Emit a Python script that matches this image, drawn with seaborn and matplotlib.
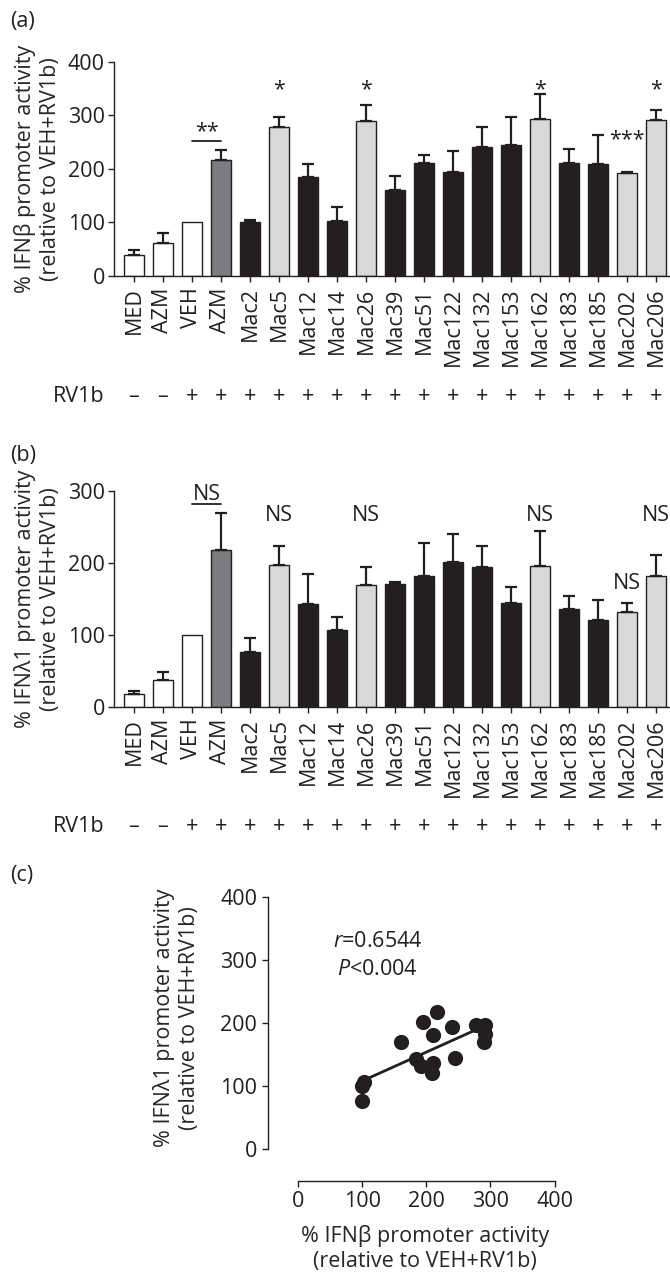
import numpy as np
import pandas as pd
import matplotlib
matplotlib.use('Agg')
import matplotlib.pyplot as plt
import matplotlib.transforms as mtransforms
import seaborn as sns

# data
labels = ['MED', 'AZM', 'VEH', 'AZM', 'Mac2', 'Mac5', 'Mac12', 'Mac14', 'Mac26',
          'Mac39', 'Mac51', 'Mac122', 'Mac132', 'Mac153', 'Mac162', 'Mac183',
          'Mac185', 'Mac202', 'Mac206']
groups = ['ctrl', 'ctrl', 'ctrl', 'azm', 'dark', 'light', 'dark', 'dark', 'light',
          'dark', 'dark', 'dark', 'dark', 'dark', 'light', 'dark', 'dark', 'light', 'light']
rv1b = ['–', '–'] + ['+'] * 17

ifnb_mean = [38, 62, 100, 216, 100, 278, 184, 103, 290, 160, 210, 194, 240, 245,
             292, 210, 209, 191, 291]
ifnb_sem = [10, 17, 0, 19, 4, 19, 25, 25, 29, 26, 15, 39, 37, 51, 48, 26, 54, 3, 19]

ifnl_mean = [17, 37, 100, 218, 76, 197, 143, 106, 169, 170, 181, 201, 194, 144,
             196, 136, 120, 132, 182]
ifnl_sem = [5, 11, 0, 51, 19, 26, 42, 19, 25, 3, 46, 39, 29, 22, 48, 18, 28, 12, 29]

# significance marks: (bar index, text)
stars_a = [(5, '*'), (8, '*'), (14, '*'), (18, '*')]
ns_b = [(5, 'NS'), (8, 'NS'), (14, 'NS'), (18, 'NS')]

INK = '#231f20'
group_colors = {'ctrl': 'white', 'azm': '#7b7c7f', 'dark': INK, 'light': '#d8d9db'}

sns.set_style('ticks')
plt.rcParams['font.family'] = ['Open Sans', 'DejaVu Sans']
plt.rcParams['mathtext.fontset'] = 'custom'
plt.rcParams['mathtext.it'] = 'Open Sans:italic'
plt.rcParams['mathtext.rm'] = 'Open Sans'
plt.rcParams['axes.edgecolor'] = INK
plt.rcParams['xtick.color'] = INK
plt.rcParams['ytick.color'] = INK
plt.rcParams['text.color'] = INK
FS = 15.5

keys = [f'{i}_{l}' for i, l in enumerate(labels)]
palette = {k: group_colors[g] for k, g in zip(keys, groups)}

fig = plt.figure(figsize=(6.7, 12.74), dpi=100)


def bar_panel(ax, mean, sem, ymax, ylabel, row_y):
    df = pd.DataFrame({'key': keys, 'val': mean})
    sns.barplot(data=df, x='key', y='val', hue='key', palette=palette, legend=False,
                width=0.7, saturation=1, edgecolor=INK, linewidth=1, errorbar=None, ax=ax)
    idx = [i for i, s in enumerate(sem) if s > 0]
    ax.errorbar(idx, [mean[i] for i in idx],
                yerr=[np.zeros(len(idx)), [sem[i] for i in idx]],
                fmt='none', ecolor=INK, elinewidth=1.6, capsize=4, capthick=1.6, zorder=1)
    ax.set_xlim(-0.69, 18.48)
    ax.set_ylim(0, ymax)
    ax.set_yticks(range(0, ymax + 1, 100))
    ax.set_xticks(range(len(labels)))
    ax.set_xticklabels(labels, rotation=90)
    ax.tick_params(labelsize=FS, length=4.5, width=1, pad=2)
    ax.tick_params(axis='x', pad=4)
    ax.set_xlabel('')
    ax.set_ylabel(ylabel, fontsize=FS, linespacing=1.25)
    ax.yaxis.set_label_coords(-0.095, 0.5)
    for sp in ax.spines.values():
        sp.set_linewidth(1)
    sns.despine(ax=ax)
    trans = mtransforms.blended_transform_factory(ax.transData, ax.transAxes)
    for i, s in enumerate(rv1b):
        ax.text(i, row_y, s, transform=trans, ha='center', va='center', fontsize=FS)


# (a)
ax_a = fig.add_axes([0.1701, 0.7836, 0.8299, 0.168])
bar_panel(ax_a, ifnb_mean, ifnb_sem, 400,
          '% IFNβ promoter activity\n(relative to VEH+RV1b)', -0.565)
for i, s in stars_a:
    ax_a.text(i, 348, s, ha='center', va='center', fontsize=FS)
ax_a.plot([2, 3], [252, 252], color=INK, lw=1.3)
ax_a.text(2.5, 270, '**', ha='center', va='center', fontsize=FS)
ax_a.text(17, 254, '***', ha='center', va='center', fontsize=FS)
fig.text(79 / 670, 1 - 396.7 / 1274, 'RV1b', ha='center', va='center', fontsize=FS)
fig.text(0.015, 1 - 21.7 / 1274, '(a)', ha='left', va='center', fontsize=FS)

# (b)
ax_b = fig.add_axes([0.1701, 0.4453, 0.8299, 0.1695])
bar_panel(ax_b, ifnl_mean, ifnl_sem, 300,
          '% IFNλ1 promoter activity\n(relative to VEH+RV1b)', -0.556)
for i, s in ns_b:
    ax_b.text(i, 266, s, ha='center', va='center', fontsize=FS)
ax_b.plot([2, 3], [281, 281], color=INK, lw=1.3, clip_on=False)
ax_b.text(2.5, 295, 'NS', ha='center', va='center', fontsize=FS)
ax_b.text(17, 171, 'NS', ha='center', va='center', fontsize=FS)
fig.text(79 / 670, 1 - 826.7 / 1274, 'RV1b', ha='center', va='center', fontsize=FS)
fig.text(0.015, 1 - 455 / 1274, '(b)', ha='left', va='center', fontsize=FS)

# (c) correlation, VEH / AZM / Mac compounds with RV1b
scat_x = ifnb_mean[2:]
scat_y = ifnl_mean[2:]
ax_c = fig.add_axes([0.4452, 0.0981, 0.3825, 0.198])
sns.regplot(x=scat_x, y=scat_y, ci=None, ax=ax_c,
            scatter_kws=dict(s=120, color=INK, alpha=1, linewidths=0),
            line_kws=dict(color=INK, lw=2))
ax_c.set_xlim(0, 400)
ax_c.set_ylim(0, 400)
ax_c.set_xticks(range(0, 401, 100))
ax_c.set_yticks(range(0, 401, 100))
ax_c.tick_params(labelsize=FS, length=4.5, width=1, pad=3)
for sp in ax_c.spines.values():
    sp.set_linewidth(1)
sns.despine(ax=ax_c, offset={'left': 22, 'bottom': 23})
ax_c.set_ylabel('% IFNλ1 promoter activity\n(relative to VEH+RV1b)', fontsize=FS, linespacing=1.25)
ax_c.yaxis.set_label_coords(-0.385, 0.52)
ax_c.set_xlabel('% IFNβ promoter activity\n(relative to VEH+RV1b)', fontsize=FS, linespacing=1.25)
ax_c.xaxis.set_label_coords(0.494, -0.30)
ax_c.text(54, 329, '$r$=0.6544', ha='left', va='center', fontsize=FS)
ax_c.text(60, 284, '$P$<0.004', ha='left', va='center', fontsize=FS)
fig.text(0.015, 1 - 875 / 1274, '(c)', ha='left', va='center', fontsize=FS)

fig.savefig('out.png', dpi=100)
